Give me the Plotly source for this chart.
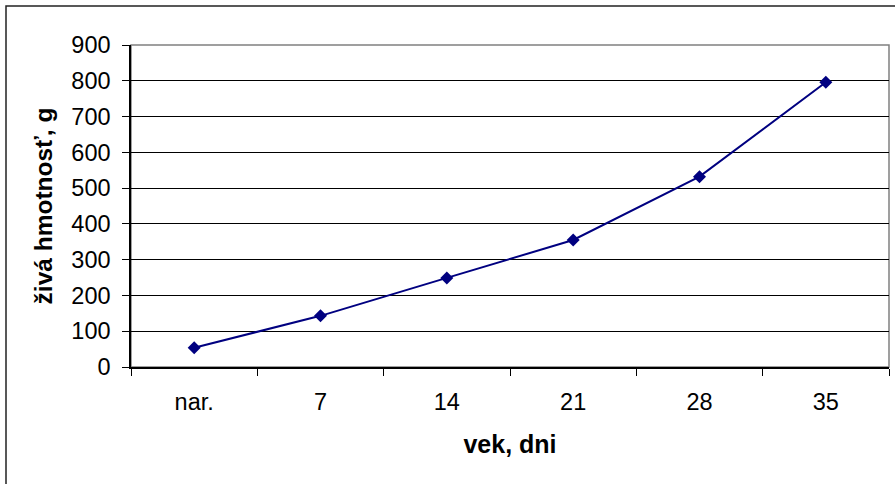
import plotly.graph_objects as go

categories = ["nar.", "7", "14", "21", "28", "35"]
weights = [54, 143, 249, 355, 532, 796]
y_ticks = [0, 100, 200, 300, 400, 500, 600, 700, 800, 900]

W, H = 895, 484
L, R, T, B = 131, 6, 45, 117
pw, ph = W - L - R, H - T - B

def px_x(p):
    return (p - L) / pw

def px_y(p):
    return (H - B - p) / ph

fig = go.Figure()
fig.add_trace(go.Scatter(
    x=categories, y=weights, mode="lines+markers",
    line=dict(color="#000080", width=2),
    marker=dict(symbol="diamond", size=10, color="#000080"),
    showlegend=False, cliponaxis=False,
))

font = "Liberation Sans, Arial, sans-serif"
fig.update_layout(
    width=W, height=H,
    margin=dict(l=L, r=R, t=T, b=B),
    paper_bgcolor="white", plot_bgcolor="white",
    font=dict(family=font, color="black", size=23.5),
    xaxis=dict(
        type="category", tickson="boundaries", ticks="outside", ticklen=7,
        tickcolor="black", tickwidth=1, showline=True, linecolor="black",
        linewidth=1.5, showgrid=False, tickfont=dict(size=23.5),
        ticklabelstandoff=13,
        title=dict(text="<b>vek, dni</b>", font=dict(size=25), standoff=22),
        range=[-0.5, 5.5], zeroline=False,
    ),
    yaxis=dict(
        range=[0, 900], tickvals=y_ticks, ticks="outside", ticklen=7,
        tickcolor="black", tickwidth=1, showline=True, linecolor="black",
        linewidth=1.5, showgrid=True, gridcolor="black", gridwidth=1,
        tickfont=dict(size=23.5), ticklabelstandoff=7, zeroline=False,
        title=dict(text="<b>živá hmotnosť, g</b>", font=dict(size=24.5), standoff=12),
    ),
    shapes=[
        dict(type="rect", xref="paper", yref="paper", x0=0, y0=0, x1=1, y1=1,
             line=dict(color="#808080", width=1.5), layer="below"),
        dict(type="rect", xref="paper", yref="paper",
             x0=px_x(6), y0=px_y(6), x1=px_x(W + 20), y1=px_y(H + 20),
             line=dict(color="#222222", width=1.5), layer="below"),
    ],
)

fig.write_html("out.html", config={"displayModeBar": False},
               post_script="document.body.style.margin='0';")
